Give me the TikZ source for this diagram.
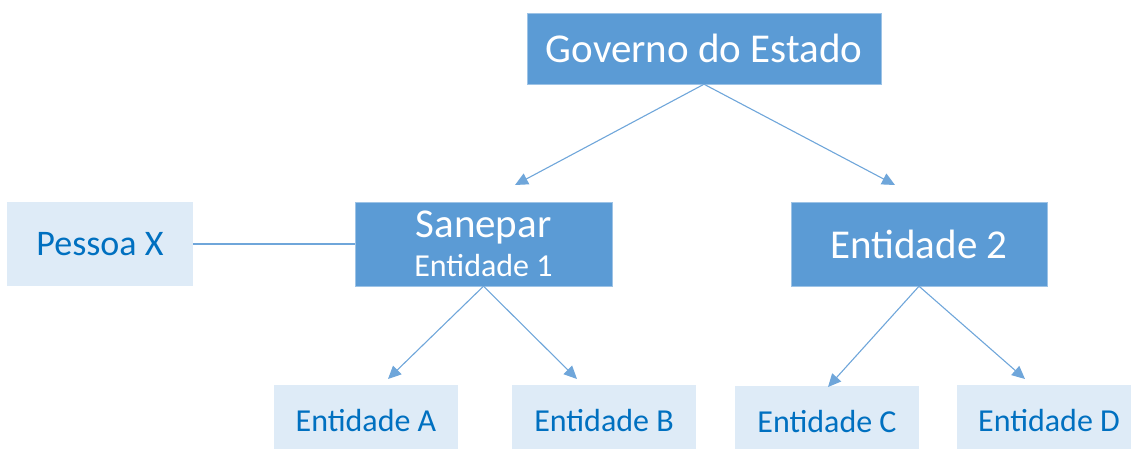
\documentclass[tikz,border=0pt]{standalone}
\usepackage{fontspec}
\setmainfont{Carlito}
\usetikzlibrary{arrows.meta}
\definecolor{escuro}{HTML}{5B9BD5}
\definecolor{claro}{HTML}{DEEBF7}
\definecolor{textoazul}{HTML}{0070C0}
\definecolor{linha}{HTML}{6FA6DA}
\begin{document}
\begin{tikzpicture}[x=1pt,y=-1pt,
    forte/.style={fill=escuro,draw=escuro!60!white,text=white,inner sep=0pt,align=center},
    fraco/.style={fill=claro,text=textoazul,inner sep=0pt,align=center},
    seta/.style={linha,line width=1.1pt,-{Triangle[length=13pt,width=12pt]}}]

    \useasboundingbox (0,0) rectangle (1131,448);

    \node[forte,minimum width=354pt,minimum height=71pt,font=\fontsize{41}{44}\selectfont] (gov) at (704,48.5) {Governo do Estado};
    \node[forte,minimum width=257pt,minimum height=84pt] (san) at (483.5,244) {\fontsize{41}{37}\selectfont Sanepar\\[9pt]\fontsize{32}{37}\selectfont Entidade 1};
    \node[forte,minimum width=256pt,minimum height=84pt,font=\fontsize{41}{44}\selectfont] (ent2) at (919,244) {Entidade 2};
    \node[fraco,minimum width=186pt,minimum height=84pt,font=\fontsize{36}{40}\selectfont] (pes) at (100,244) {Pessoa X};

    \node[fraco,minimum width=184pt,minimum height=70pt,font=\fontsize{32}{36}\selectfont] (entA) at (366,420) {Entidade A};
    \node[fraco,minimum width=184pt,minimum height=70pt,font=\fontsize{32}{36}\selectfont] (entB) at (604,420) {Entidade B};
    \node[fraco,minimum width=184pt,minimum height=70pt,font=\fontsize{32}{36}\selectfont] (entC) at (827,421) {Entidade C};
    \node[fraco,minimum width=184pt,minimum height=70pt,font=\fontsize{32}{36}\selectfont] (entD) at (1049,420) {Entidade D};

    \coordinate (p1) at (515,185);
    \coordinate (p2) at (895,185);
    \coordinate (p3) at (388,379);
    \coordinate (p4) at (577,379);
    \coordinate (p5) at (828,387);
    \coordinate (p6) at (1025,379);

    \draw[seta] (gov.south) -- (p1);
    \draw[seta] (gov.south) -- (p2);
    \draw[seta] (san.south) -- (p3);
    \draw[seta] (san.south) -- (p4);
    \draw[seta] (ent2.south) -- (p5);
    \draw[seta] (ent2.south) -- (p6);
    \draw[linha,line width=1.1pt] (pes.east) -- (san.west);

\end{tikzpicture}
\end{document}
